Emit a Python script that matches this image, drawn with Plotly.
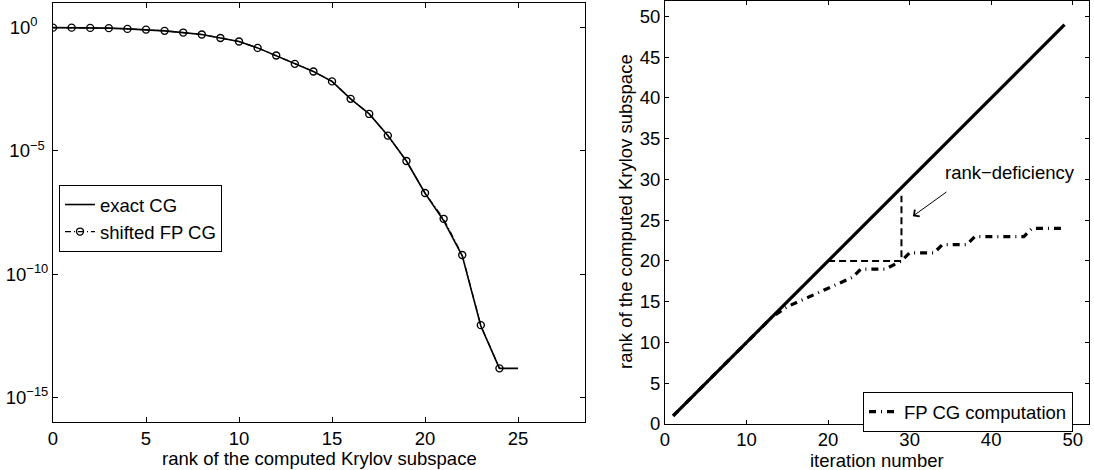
import plotly.graph_objects as go

# ---------------- data ----------------
# left panel: residual-type quantity vs. rank of Krylov subspace (log scale)
rank_exact = [0, 1, 2, 3, 4, 5, 6, 7, 8, 9, 10, 11, 12, 13, 14, 15, 16, 17, 18, 19, 20, 21, 22, 23, 24, 25]
val_exact = [1.0, 1.0, 0.977, 0.955, 0.891, 0.832, 0.741, 0.631, 0.525, 0.380, 0.275, 0.151, 0.0741,
             0.0339, 0.0166, 6.6e-3, 1.29e-3, 3.16e-4, 4.17e-5, 3.89e-6, 1.91e-7, 1.48e-8, 5.5e-10,
             7.8e-13, 1.5e-14, 1.5e-14]
rank_shift = [0, 1, 2, 3, 4, 5, 6, 7, 8, 9, 10, 11, 12, 13, 14, 15, 16, 17, 18, 19, 20, 21, 22, 23, 24]
val_shift = [1.0, 1.0, 0.977, 0.955, 0.891, 0.832, 0.741, 0.631, 0.525, 0.380, 0.275, 0.151, 0.0741,
             0.0339, 0.0166, 6.6e-3, 1.29e-3, 3.16e-4, 4.17e-5, 3.89e-6, 1.95e-7, 1.75e-8, 6.0e-10,
             8.5e-13, 1.5e-14]

# right panel: rank vs. iteration number
iter_exact = [1, 49]
rank_exact_line = [1, 49]
iter_fp = [1, 13, 15, 17, 19, 21, 23, 24, 27, 29, 30, 33, 34, 37, 38, 44, 45, 49]
rank_fp = [1, 13, 14.4, 15.3, 16.2, 17.2, 18, 19, 19, 20, 21, 21, 22, 22, 23, 23, 24, 24]
iter_def = [20, 29, 29]
rank_def = [20, 20, 28]

left_xticks = [0, 5, 10, 15, 20, 25]
left_yticks = [1e0, 1e-5, 1e-10, 1e-15]
left_yticktext = ["10<sup>0\u00a0\u00a0\u00a0</sup>", "10<sup>\u22125\u00a0</sup>",
                  "10<sup>\u221210</sup>", "10<sup>\u221215</sup>"]
right_xticks = [0, 10, 20, 30, 40, 50]
right_yticks = [0, 5, 10, 15, 20, 25, 30, 35, 40, 45, 50]

# ---------------- figure ----------------
FONT = "Liberation Sans, Arial, Helvetica, sans-serif"
FS = 18.5
W, H = 1094, 470

fig = go.Figure()

fig.add_trace(go.Scatter(x=rank_exact, y=val_exact, mode="lines", name="exact CG",
                         line=dict(color="black", width=1.6), xaxis="x", yaxis="y",
                         legend="legend"))
fig.add_trace(go.Scatter(x=rank_shift, y=val_shift, mode="lines+markers", name="shifted FP CG",
                         line=dict(color="black", width=1.2, dash="6px,3px,1px,3px"),
                         marker=dict(symbol="circle-open", size=7, color="black",
                                     line=dict(width=1.4, color="black")),
                         xaxis="x", yaxis="y", legend="legend"))

fig.add_trace(go.Scatter(x=iter_fp, y=rank_fp, mode="lines", name="FP CG computation",
                         line=dict(color="black", width=3.2, dash="7px,5px,1px,5px"),
                         xaxis="x2", yaxis="y2", legend="legend2"))
fig.add_trace(go.Scatter(x=iter_exact, y=rank_exact_line, mode="lines", showlegend=False,
                         line=dict(color="black", width=3.2), xaxis="x2", yaxis="y2"))
fig.add_trace(go.Scatter(x=iter_def, y=rank_def, mode="lines", showlegend=False,
                         line=dict(color="black", width=2, dash="7px,4px"),
                         xaxis="x2", yaxis="y2"))

ax_common = dict(showline=True, linecolor="black", linewidth=1, mirror="ticks",
                 ticks="inside", tickcolor="black", tickwidth=1, showgrid=False,
                 zeroline=False, tickfont=dict(family=FONT, size=FS, color="black"),
                 automargin=False)

x1d = [53 / W, 585 / W]
y1d = [1 - 422 / H, 1 - 3 / H]
x2d = [665 / W, 1089 / W]
y2d = [1 - 424 / H, 1 - 1 / H]

fig.update_layout(
    width=W, height=H,
    margin=dict(l=0, r=0, t=0, b=0, pad=0),
    paper_bgcolor="white", plot_bgcolor="white",
    font=dict(family=FONT, size=FS, color="black"),
    xaxis=dict(domain=x1d, anchor="y", range=[0, 28.6], tickvals=left_xticks, ticklen=5,
               **ax_common),
    yaxis=dict(domain=y1d, anchor="x", type="log", range=[-16, 1.0], tickvals=left_yticks,
               ticktext=left_yticktext, ticklen=5, **ax_common),
    xaxis2=dict(domain=x2d, anchor="y2", range=[0, 52], tickvals=right_xticks, ticklen=4,
                ticklabelstandoff=-1, **ax_common),
    yaxis2=dict(domain=y2d, anchor="x2", range=[0, 51.9], tickvals=right_yticks, ticklen=4,
                **ax_common),
    legend=dict(x=59 / W, y=1 - 185 / H, xanchor="left", yanchor="top",
                bordercolor="black", borderwidth=1, bgcolor="white",
                font=dict(family=FONT, size=FS, color="black"), itemwidth=30,
                tracegroupgap=0),
    legend2=dict(x=863 / W, y=1 - 392 / H, xanchor="left", yanchor="top",
                 bordercolor="black", borderwidth=1, bgcolor="white",
                 font=dict(family=FONT, size=FS, color="black"), itemwidth=30),
    showlegend=True,
)

annotations = [
    dict(text="rank of the computed Krylov subspace", xref="paper", yref="paper",
         x=319 / W, y=1 - 458 / H, xanchor="center", yanchor="middle", showarrow=False,
         font=dict(family=FONT, size=FS, color="black")),
    dict(text="iteration number", xref="paper", yref="paper",
         x=877 / W, y=1 - 460 / H, xanchor="center", yanchor="middle", showarrow=False,
         font=dict(family=FONT, size=FS, color="black")),
    dict(text="rank of the computed Krylov subspace", xref="paper", yref="paper",
         x=625 / W, y=1 - 212 / H, xanchor="center", yanchor="middle", showarrow=False,
         textangle=-90, font=dict(family=FONT, size=FS, color="black")),
    dict(text="rank\u2212deficiency", xref="x2", yref="y2", x=42.3, y=30.9,
         xanchor="center", yanchor="middle", showarrow=False,
         font=dict(family=FONT, size=FS, color="black")),
    dict(text="", xref="x2", yref="y2", x=30.4, y=25.5, axref="x2", ayref="y2",
         ax=34.7, ay=28.6, showarrow=True, arrowhead=4, arrowsize=1.6, arrowwidth=1,
         arrowcolor="black"),
]
fig.update_layout(annotations=annotations)

fig.write_html("out.html")
